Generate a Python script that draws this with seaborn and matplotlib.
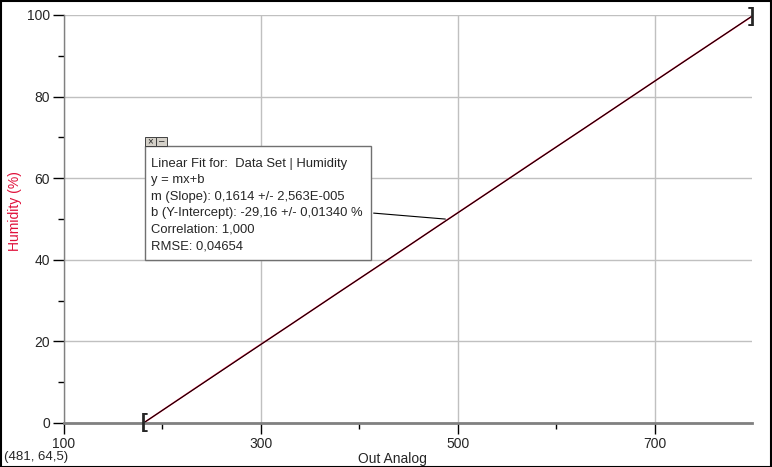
import numpy as np
import pandas as pd
import matplotlib.pyplot as plt
import seaborn as sns
from matplotlib.patches import Rectangle

# data
out_analog = [182, 230, 280, 330, 380, 430, 481, 530, 580, 630, 680, 730, 798]
humidity = [0.2, 8.0, 16.1, 24.1, 32.2, 40.2, 48.5, 56.4, 64.5, 72.5, 80.6, 88.7, 99.6]

fit_slope = 0.1614
fit_intercept = -29.16
fit_range = [182, 798]
fit_lines = [
    "Linear Fit for:  Data Set | Humidity",
    "y = mx+b",
    "m (Slope): 0,1614 +/- 2,563E-005",
    "b (Y-Intercept): -29,16 +/- 0,01340 %",
    "Correlation: 1,000",
    "RMSE: 0,04654",
]
cursor_text = "(481, 64,5)"

sns.set_style("white")
plt.rcParams['font.family'] = ['Liberation Sans', 'DejaVu Sans']

fig = plt.figure(figsize=(7.72, 4.67), dpi=100)
ax = fig.add_axes([64 / 772, 44 / 467, 688 / 772, 408 / 467])

df = pd.DataFrame({'Out Analog': out_analog, 'Humidity': humidity})
sns.lineplot(data=df, x='Out Analog', y='Humidity', ax=ax, color='#e0103a', lw=1.1, zorder=2)

fit_x = np.array(fit_range, dtype=float)
fit_df = pd.DataFrame({'x': fit_x, 'y': fit_slope * fit_x + fit_intercept})
sns.lineplot(data=fit_df, x='x', y='y', ax=ax, color='black', lw=0.7, zorder=3)

# fit range brackets
ax.text(fit_x[0], fit_df['y'][0], '[', fontsize=15, fontweight='bold', ha='center', va='center', zorder=4)
ax.text(fit_x[1], fit_df['y'][1], ']', fontsize=15, fontweight='bold', ha='center', va='center', zorder=4)

ax.set_xlim(100, 798.5)
ax.set_ylim(0, 100)
ax.set_xticks([100, 300, 500, 700])
ax.set_xticks([200, 400, 600], minor=True)
ax.set_yticks([0, 20, 40, 60, 80, 100])
ax.set_yticks([10, 30, 50, 70, 90], minor=True)
ax.grid(True, which='major', color='#c0c0c0', lw=1)
ax.tick_params(which='major', direction='out', length=8, width=1, color='black',
               labelsize=10, pad=2, bottom=True, left=True)
ax.tick_params(which='minor', direction='out', length=4, width=1, color='black',
               bottom=True, left=True)

for s in ['top', 'right']:
    ax.spines[s].set_visible(False)
ax.spines['left'].set_color('#808080')
ax.spines['left'].set_linewidth(1)
ax.spines['bottom'].set_color('#808080')
ax.spines['bottom'].set_linewidth(2)

ax.set_xlabel('Out Analog', fontsize=10)
ax.xaxis.set_label_coords(0.477, -0.071)
ax.set_ylabel('Humidity (%)', fontsize=10, color='#e0103a')
ax.yaxis.set_label_coords(-0.061, 0.52)

# fit annotation box
box_x0, box_y0, box_w, box_h = 0.118, 0.40, 0.328, 0.28
ax.add_patch(Rectangle((box_x0, box_y0), box_w, box_h, transform=ax.transAxes,
                       facecolor='white', edgecolor='#707070', lw=1, zorder=5))
for i, line in enumerate(fit_lines):
    ax.text(box_x0 + 0.009, box_y0 + box_h - 0.044 - i * 0.0407, line, transform=ax.transAxes,
            fontsize=9.4, va='center', ha='left', zorder=6)
for j, sym in enumerate(['×', '–']):
    ax.add_patch(Rectangle((box_x0 + j * 0.016, box_y0 + box_h), 0.015, 0.02, transform=ax.transAxes,
                           facecolor='#d4d0c8', edgecolor='#404040', lw=0.7, zorder=6))
    ax.text(box_x0 + j * 0.016 + 0.0075, box_y0 + box_h + 0.01, sym, transform=ax.transAxes,
            fontsize=7, ha='center', va='center', zorder=7)
ax.annotate('', xy=(490, fit_slope * 490 + fit_intercept), xycoords='data',
            xytext=(box_x0 + box_w, 0.515), textcoords='axes fraction',
            arrowprops=dict(arrowstyle='-', color='black', lw=0.8), zorder=4)

fig.text(4 / 772, 1 - 457 / 467, cursor_text, fontsize=9.5, va='center', ha='left')
fig.add_artist(Rectangle((0.5 / 772, 0.5 / 467), 1 - 1.5 / 772, 1 - 1.5 / 467, transform=fig.transFigure,
                         fill=False, edgecolor='black', lw=1.5))

fig.savefig('out.png', dpi=100)
